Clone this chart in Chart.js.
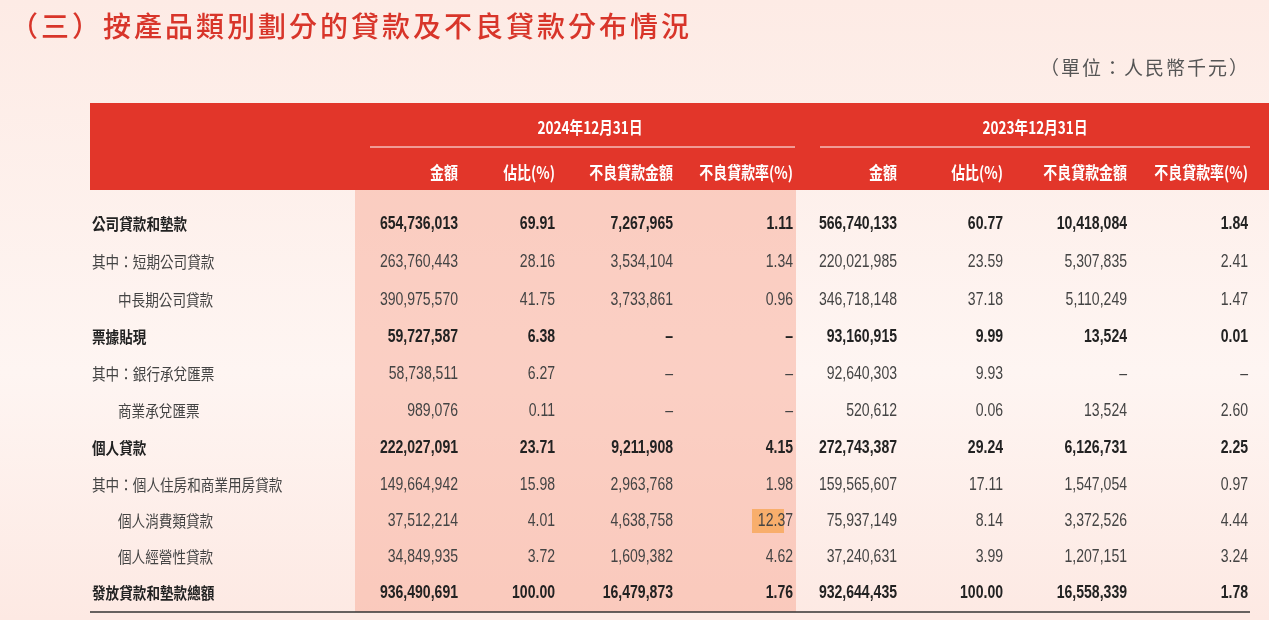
<!DOCTYPE html>
<html><head><meta charset="utf-8">
<script src="https://cdn.jsdelivr.net/npm/chart.js@4/dist/chart.umd.min.js"></script>
<style>
html,body{margin:0;padding:0;width:1269px;height:620px;overflow:hidden;background:linear-gradient(180deg,#fdebe5 0%,#fef5f2 60%,#fde9e3 100%);}
canvas{display:block}
</style></head><body>
<canvas id="c" width="1269" height="620"></canvas>
<script>
const title = "（三）按產品類別劃分的貸款及不良貸款分布情況";
const unitLabel = "（單位：人民幣千元）";
const periods = ["2024年12月31日", "2023年12月31日"];
const colHeaders = ["金額", "佔比(%)", "不良貸款金額", "不良貸款率(%)"];
const rowLabels = ["公司貸款和墊款","其中：短期公司貸款","中長期公司貸款","票據貼現","其中：銀行承兌匯票","商業承兌匯票","個人貸款","其中：個人住房和商業用房貸款","個人消費類貸款","個人經營性貸款","發放貸款和墊款總額"];
const rowIndent = [0,0,1,0,0,1,0,0,1,1,0];
const rowBold = [1,0,0,1,0,0,1,0,0,0,1];
const amount2024 = ["654,736,013","263,760,443","390,975,570","59,727,587","58,738,511","989,076","222,027,091","149,664,942","37,512,214","34,849,935","936,490,691"];
const share2024 = ["69.91","28.16","41.75","6.38","6.27","0.11","23.71","15.98","4.01","3.72","100.00"];
const npl2024 = ["7,267,965","3,534,104","3,733,861","–","–","–","9,211,908","2,963,768","4,638,758","1,609,382","16,479,873"];
const rate2024 = ["1.11","1.34","0.96","–","–","–","4.15","1.98","12.37","4.62","1.76"];
const amount2023 = ["566,740,133","220,021,985","346,718,148","93,160,915","92,640,303","520,612","272,743,387","159,565,607","75,937,149","37,240,631","932,644,435"];
const share2023 = ["60.77","23.59","37.18","9.99","9.93","0.06","29.24","17.11","8.14","3.99","100.00"];
const npl2023 = ["10,418,084","5,307,835","5,110,249","13,524","–","13,524","6,126,731","1,547,054","3,372,526","1,207,151","16,558,339"];
const rate2023 = ["1.84","2.41","1.47","0.01","–","2.60","2.25","0.97","4.44","3.24","1.78"];

const cols = [amount2024,share2024,npl2024,rate2024,amount2023,share2023,npl2023,rate2023];
const colRight = [458,555,673,793,897,1003,1127,1248];
const rowY = [224,262,300,337,374,411,448,485,521,557,593];
const FONT = '"Liberation Sans","Noto Sans CJK TC",sans-serif';
const CJK = '"Noto Sans CJK TC","Noto Sans CJK SC",sans-serif';

function txt(ctx, s, x, y, align, sx){
  ctx.save(); ctx.translate(x,y); ctx.scale(sx,1); ctx.textAlign=align; ctx.fillText(s,0,0); ctx.restore();
}

const tablePlugin = {
  id:'table',
  beforeDatasetsDraw(chart){
    const x = chart.scales.x, y = chart.scales.y, ctx = chart.ctx;
    const X = v=>x.getPixelForValue(v), Y = v=>y.getPixelForValue(v);
    ctx.save();
    ctx.textBaseline='middle';
    ctx.fillStyle='#d8352a'; ctx.font='500 28px '+CJK;
    ctx.letterSpacing='3px';
    txt(ctx, title, X(10), Y(26), 'left', 1);
    ctx.letterSpacing='2px';
    ctx.fillStyle='#555'; ctx.font='19px '+CJK;
    txt(ctx, unitLabel, X(1250), Y(68), 'right', 1);
    ctx.letterSpacing='0px';
    ctx.fillStyle='#e2362a'; ctx.fillRect(X(90),Y(103),X(1269)-X(90),Y(190)-Y(103));
    ctx.fillStyle='rgba(248,170,150,0.5)'; ctx.fillRect(X(355),Y(190),X(796)-X(355),Y(612)-Y(190));
    ctx.fillStyle='#f8ae6c'; ctx.fillRect(X(752),Y(509),X(784)-X(752),Y(533)-Y(509));
    ctx.fillStyle='#fff'; ctx.font='bold 17px '+CJK;
    txt(ctx, periods[0], X(590), Y(128), 'center', 0.8);
    txt(ctx, periods[1], X(1035), Y(128), 'center', 0.8);
    ctx.strokeStyle='#fff'; ctx.lineWidth=1;
    ctx.beginPath(); ctx.moveTo(X(370),Y(147)); ctx.lineTo(X(795),Y(147));
    ctx.moveTo(X(820),Y(147)); ctx.lineTo(X(1250),Y(147)); ctx.stroke();
    colRight.forEach((r,i)=>txt(ctx, colHeaders[i%4], X(r), Y(173), 'right', 0.82));
    rowLabels.forEach((lab,i)=>{
      const b = rowBold[i]?'bold ':'';
      ctx.fillStyle = rowBold[i]?'#222':'#444';
      ctx.font=b+'16px '+CJK;
      txt(ctx, lab, X(rowIndent[i]?118:92), Y(rowY[i]), 'left', 0.85);
      ctx.font=b+'18px '+FONT;
      cols.forEach((c,j)=>txt(ctx, c[i], X(colRight[j]), Y(rowY[i]), 'right', 0.78));
    });
    ctx.strokeStyle='#333'; ctx.lineWidth=1.5;
    ctx.beginPath(); ctx.moveTo(X(90),Y(612)); ctx.lineTo(X(1250),Y(612)); ctx.stroke();
    ctx.restore();
  }
};

new Chart(document.getElementById('c'),{
  type:'scatter',
  data:{datasets:[{data:[],pointRadius:0}]},
  options:{
    responsive:false, animation:false, events:[],
    layout:{padding:0},
    plugins:{legend:{display:false},tooltip:{enabled:false}},
    scales:{
      x:{type:'linear',min:0,max:1269,display:false},
      y:{type:'linear',min:0,max:620,reverse:true,display:false}
    }
  },
  plugins:[tablePlugin]
});
</script></body></html>
